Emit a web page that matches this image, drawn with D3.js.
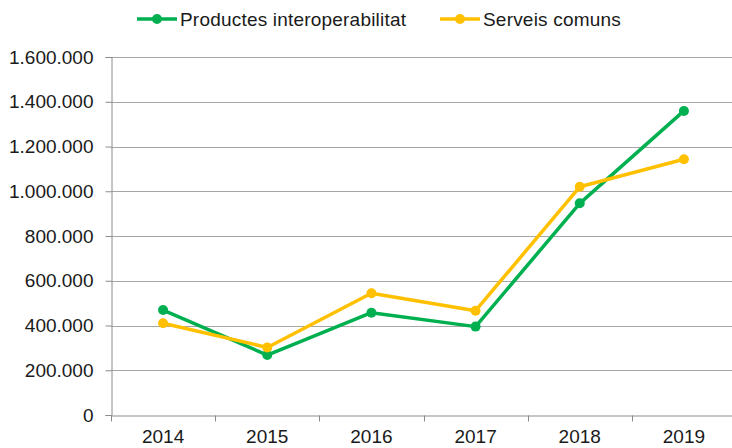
<!DOCTYPE html>
<html>
<head>
<meta charset="utf-8">
<style>
    body { margin: 0; background: #fff; }
    svg { font-family: "Liberation Sans", Arial, sans-serif; }
    .grid line { stroke: #a6a6a6; stroke-width: 1; shape-rendering: crispEdges; }
</style>
</head>
<body>
<script src="https://cdn.jsdelivr.net/npm/d3@7"></script>
<script>
    var years = ["2014", "2015", "2016", "2017", "2018", "2019"];
    var productes = [469000, 268000, 457000, 395000, 946000, 1359000];
    var serveis = [410000, 302000, 544000, 466000, 1020000, 1143000];
    var yTicks = [0, 200000, 400000, 600000, 800000, 1000000, 1200000, 1400000, 1600000];

    var series = [
        { name: "Productes interoperabilitat", values: productes, color: "#00b050" },
        { name: "Serveis comuns", values: serveis, color: "#ffc000" }
    ];

    var width = 732, height = 448;
    var plotLeft = 111, plotRight = 736, plotTop = 57, plotBottom = 415;

    var svg = d3.select("body").append("svg")
        .attr("width", width)
        .attr("height", height);

    var x = d3.scaleBand().domain(years).range([plotLeft, plotRight]);
    var y = d3.scaleLinear().domain([0, 1600000]).range([plotBottom, plotTop]);

    var fmt = function(v) { return d3.format(",")(v).replace(/,/g, "."); };

    // horizontal gridlines
    svg.append("g").attr("class", "grid")
        .selectAll("line")
        .data(yTicks.filter(function(d) { return d > 0; }))
        .enter().append("line")
        .attr("x1", plotLeft).attr("x2", width)
        .attr("y1", function(d) { return Math.round(y(d)) + 0.5; })
        .attr("y2", function(d) { return Math.round(y(d)) + 0.5; });

    // y axis
    var yAxis = svg.append("g")
        .attr("transform", "translate(" + (plotLeft + 0.5) + ",0)")
        .call(d3.axisLeft(y).tickValues(yTicks).tickFormat(fmt).tickSize(6).tickPadding(12));
    yAxis.select(".domain").attr("stroke", "#8c8c8c");
    yAxis.selectAll(".tick line").attr("stroke", "#8c8c8c");
    yAxis.selectAll("text").attr("font-size", 19).attr("fill", "#1a1a1a")
        .attr("font-family", "Liberation Sans, Arial, sans-serif");

    // x axis
    var xAxis = svg.append("g")
        .attr("transform", "translate(0," + (plotBottom + 0.5) + ")")
        .call(d3.axisBottom(x).tickSize(0).tickPadding(14));
    xAxis.select(".domain").attr("stroke", "#8c8c8c");
    xAxis.selectAll("text").attr("font-size", 19).attr("fill", "#1a1a1a")
        .attr("font-family", "Liberation Sans, Arial, sans-serif");
    // tick marks at band boundaries
    xAxis.selectAll(".sep")
        .data(years)
        .enter().append("line")
        .attr("x1", function(d) { return Math.round(x(d)) + 0.5; })
        .attr("x2", function(d) { return Math.round(x(d)) + 0.5; })
        .attr("y1", 0).attr("y2", 6)
        .attr("stroke", "#8c8c8c");

    var cx = function(d, i) { return x(years[i]) + x.bandwidth() / 2; };

    var line = d3.line()
        .x(function(d, i) { return cx(d, i); })
        .y(function(d) { return y(d); });

    series.forEach(function(s) {
        var g = svg.append("g");
        g.append("path")
            .datum(s.values)
            .attr("d", line)
            .attr("fill", "none")
            .attr("stroke", s.color)
            .attr("stroke-width", 3.5)
            .attr("stroke-linejoin", "round");
        g.selectAll("circle")
            .data(s.values)
            .enter().append("circle")
            .attr("cx", cx)
            .attr("cy", function(d) { return y(d); })
            .attr("r", 5)
            .attr("fill", s.color);
    });

    // legend
    var legendX = [137, 440];
    var legend = svg.append("g");
    series.forEach(function(s, i) {
        var g = legend.append("g").attr("transform", "translate(" + legendX[i] + ",19)");
        g.append("line").attr("x1", 0).attr("x2", 40).attr("y1", 0).attr("y2", 0)
            .attr("stroke", s.color).attr("stroke-width", 3.5);
        g.append("circle").attr("cx", 20).attr("cy", 0).attr("r", 5).attr("fill", s.color);
        g.append("text").attr("x", 43).attr("y", 0).attr("dy", "0.35em")
            .attr("font-size", 19).attr("letter-spacing", 0.2).attr("fill", "#1a1a1a")
            .text(s.name);
    });
</script>
</body>
</html>
